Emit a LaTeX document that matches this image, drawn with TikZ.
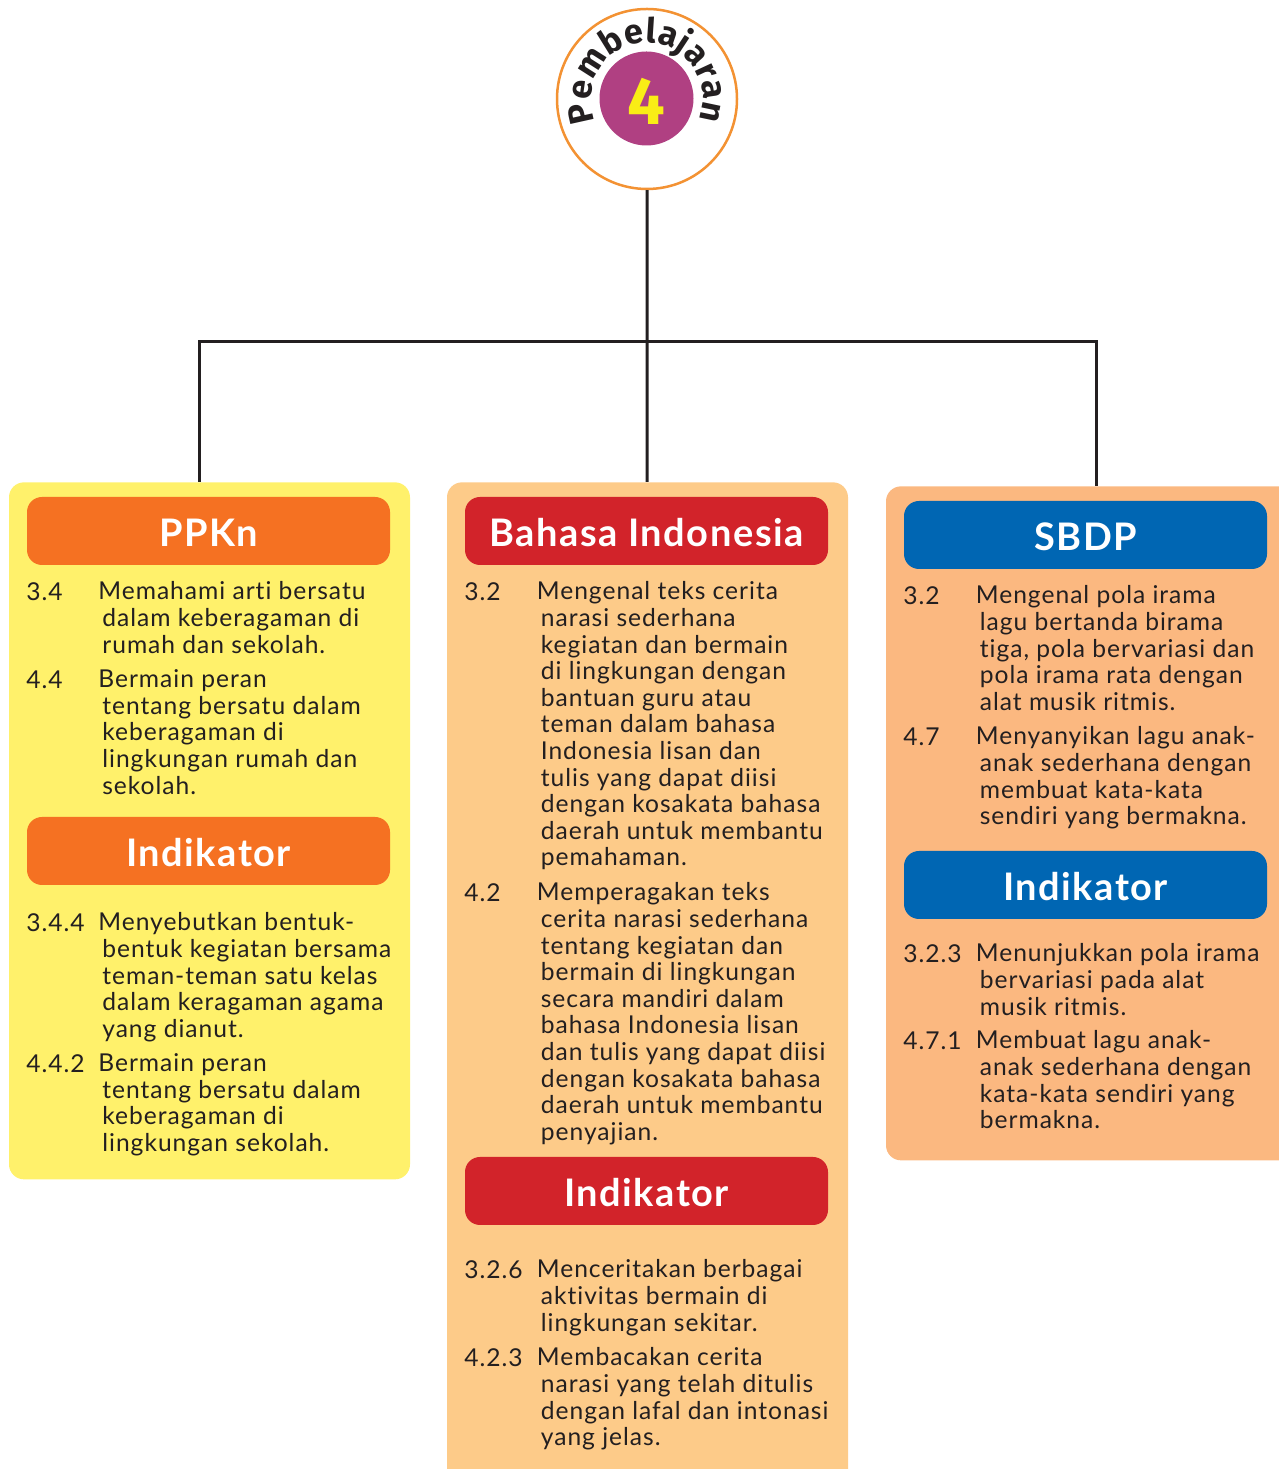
\documentclass[tikz,border=0pt]{standalone}
\usepackage{fontspec}
\setmainfont{Lato}[LetterSpace=4,Ligatures=NoCommon]
\newfontfamily\tebal{Fira Sans}
\usetikzlibrary{decorations.text}
\definecolor{teks}{RGB}{35,31,32}
\definecolor{kuning}{RGB}{255,241,107}
\definecolor{krem}{RGB}{253,203,137}
\definecolor{jingga}{RGB}{251,184,128}
\definecolor{oranye}{RGB}{245,113,34}
\definecolor{merah}{RGB}{210,35,42}
\definecolor{biru}{RGB}{0,102,179}
\definecolor{ungu}{RGB}{176,64,130}
\definecolor{cincin}{RGB}{243,146,51}
\definecolor{angkakuning}{RGB}{249,237,22}
\tikzset{
	garis/.style={
		draw=teks,
		line width=0.06cm
	},
	panel/.style={
		rectangle,
		rounded corners=0.3cm,
		anchor=north,
		inner sep=0
	},
	judul/.style={
		rectangle,
		rounded corners=0.3cm,
		minimum width=7.26cm,
		minimum height=1.36cm,
		inner sep=0,
		text height=0.64cm,
		text depth=0cm,
		text=white,
		font=\fontsize{21.6}{24}\selectfont\bfseries
	},
	isi/.style={
		anchor=north west,
		yshift=0.354cm,
		align=left,
		inner sep=0,
		text=teks,
		font=\fontsize{14}{15.15}\selectfont,
		execute at begin node=\strut
	}
}
\newcommand{\geser}{\hspace*{-0.08cm}}

\begin{document}
\begin{tikzpicture}
		\useasboundingbox (0,0) rectangle (25.58,29.38);
		
		\node[panel, fill=kuning, minimum width=8.02cm, minimum height=13.94cm] (panelA) at (4.19,19.74) {};
		\node[panel, fill=krem, minimum width=8.02cm, minimum height=20.36cm] (panelB) at (12.95,19.74) {};
		\node[panel, fill=jingga, minimum width=8.48cm, minimum height=13.48cm] (panelC) at (21.96,19.66) {};
		
		\node[circle, draw=cincin, fill=white, line width=0.05cm, minimum size=3.6cm, inner sep=0] (bulat) at (12.94,27.4) {};
		\node[circle, fill=ungu, minimum size=1.88cm, inner sep=0, text height=1.04cm, text depth=0cm, text=angkakuning, font=\tebal\fontsize{38}{38}\selectfont\bfseries] (angka) at (12.93,27.41) {4};
		\path[decorate, decoration={text along path, text align={fit to path}, text={|\tebal\fontsize{19.5}{20}\selectfont\bfseries\color{teks}|Pembelajaran}}] (bulat.center) ++(203:1.12) arc (203:-22:1.12);
		
		\coordinate (cabang) at (12.94,22.54);
		\draw[garis] (bulat) -- (panelB);
		\draw[garis] ([xshift=-0.21cm]panelA.north) |- (cabang);
		\draw[garis] ([xshift=-0.04cm]panelC.north) |- (cabang);
		
		% kolom PPKn
		\node[judul, fill=oranye] (ppkn) at (4.17,18.76) {PPKn};
		\node[isi] (a1) at (0.52,17.40) {3.4};
		\node[isi] (a1t) at (2.04,17.40) {\geser Memahami arti bersatu\\dalam keberagaman di\\rumah dan sekolah.};
		\node[isi] (a2) at (0.52,15.64) {4.4};
		\node[isi] (a2t) at (2.04,15.64) {\geser Bermain peran\\tentang bersatu dalam\\keberagaman di\\lingkungan rumah dan\\sekolah.};
		\node[judul, fill=oranye] (indA) at (4.17,12.36) {Indikator};
		\node[isi] (a3) at (0.52,10.78) {3.4.4};
		\node[isi] (a3t) at (2.04,10.78) {\geser Menyebutkan bentuk-\\bentuk kegiatan bersama\\teman-teman satu kelas\\dalam keragaman agama\\yang dianut.};
		\node[isi] (a4) at (0.52,7.96) {4.4.2};
		\node[isi] (a4t) at (2.04,7.96) {\geser Bermain peran\\tentang bersatu dalam\\keberagaman di\\lingkungan sekolah.};
		
		% kolom Bahasa Indonesia
		\node[judul, fill=merah] (bindo) at (12.93,18.76) {Bahasa Indonesia};
		\node[isi] (b1) at (9.28,17.40) {3.2};
		\node[isi] (b1t) at (10.81,17.40) {\geser Mengenal teks cerita\\narasi sederhana\\kegiatan dan bermain\\di lingkungan dengan\\bantuan guru atau\\teman dalam bahasa\\Indonesia lisan dan\\tulis yang dapat diisi\\dengan kosakata bahasa\\daerah untuk membantu\\pemahaman.};
		\node[isi] (b2) at (9.28,11.38) {4.2};
		\node[isi] (b2t) at (10.81,11.38) {\geser Memperagakan teks\\cerita narasi sederhana\\tentang kegiatan dan\\bermain di lingkungan\\secara mandiri dalam\\bahasa Indonesia lisan\\dan tulis yang dapat diisi\\dengan kosakata bahasa\\daerah untuk membantu\\penyajian.};
		\node[judul, fill=merah] (indB) at (12.93,5.56) {Indikator};
		\node[isi] (b3) at (9.28,3.84) {3.2.6};
		\node[isi] (b3t) at (10.81,3.84) {\geser Menceritakan berbagai\\aktivitas bermain di\\lingkungan sekitar.};
		\node[isi] (b4) at (9.28,2.08) {4.2.3};
		\node[isi] (b4t) at (10.81,2.08) {\geser Membacakan cerita\\narasi yang telah ditulis\\dengan lafal dan intonasi\\yang jelas.};
		
		% kolom SBDP
		\node[judul, fill=biru] (sbdp) at (21.71,18.68) {SBDP};
		\node[isi] (c1) at (18.06,17.32) {3.2};
		\node[isi] (c1t) at (19.59,17.32) {\geser Mengenal pola irama\\lagu bertanda birama\\tiga, pola bervariasi dan\\pola irama rata dengan\\alat musik ritmis.};
		\node[isi] (c2) at (18.06,14.50) {4.7};
		\node[isi] (c2t) at (19.59,14.50) {\geser Menyanyikan lagu anak-\\anak sederhana dengan\\membuat kata-kata\\sendiri yang bermakna.};
		\node[judul, fill=biru] (indC) at (21.71,11.68) {Indikator};
		\node[isi] (c3) at (18.06,10.16) {3.2.3};
		\node[isi] (c3t) at (19.59,10.16) {\geser Menunjukkan pola irama\\bervariasi pada alat\\musik ritmis.};
		\node[isi] (c4) at (18.06,8.42) {4.7.1};
		\node[isi] (c4t) at (19.59,8.42) {\geser Membuat lagu anak-\\anak sederhana dengan\\kata-kata sendiri yang\\bermakna.};
\end{tikzpicture}
\end{document}
